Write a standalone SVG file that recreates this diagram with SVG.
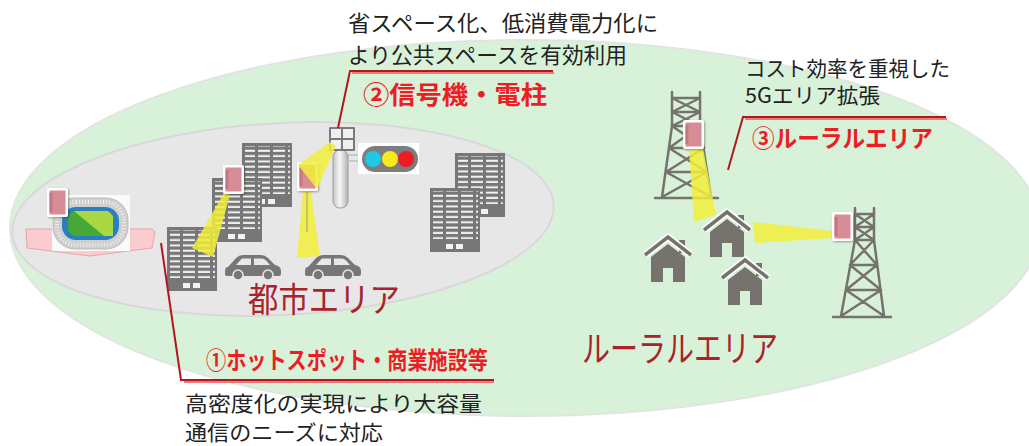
<svg xmlns="http://www.w3.org/2000/svg" width="1029" height="446" viewBox="0 0 1029 446">
  <style>
    .txt { font-family: "Noto Sans CJK JP", "Noto Sans", sans-serif; fill: #222; }
    .red { font-family: "Noto Sans CJK JP", "Noto Sans", sans-serif; fill: #ee1c24; font-weight: bold; }
    .area { font-family: "Noto Sans CJK JP", "Noto Sans", sans-serif; fill: #a8242a; }
    .beam { fill: #f2ee3a; opacity: 0.85; }
    .tower { fill: none; stroke: #76736e; stroke-width: 2.5; stroke-linecap: round; }
    .lead-sh { fill: none; stroke: #ec7a7a; stroke-width: 2; }
    .lead { fill: none; stroke: #b3161c; stroke-width: 2; }
  </style>
  <defs>
    <filter id="sh" x="-30%" y="-30%" width="160%" height="160%">
      <feDropShadow dx="1" dy="1" stdDeviation="1.2" flood-color="#000" flood-opacity="0.35"/>
    </filter>
    <pattern id="win" width="15" height="5.3" patternUnits="userSpaceOnUse">
      <rect x="1" y="1.5" width="12" height="2" fill="#f2f2f2"/>
    </pattern>
    <linearGradient id="pole" x1="0" x2="1" y1="0" y2="0">
      <stop offset="0" stop-color="#c4c4c4"/>
      <stop offset="0.45" stop-color="#f6f6f6"/>
      <stop offset="1" stop-color="#b4b4b4"/>
    </linearGradient>
    <!-- office building -->
    <g id="bldg">
      <rect x="0" y="0" width="50" height="64" fill="#777"/>
      <rect x="3" y="3" width="45" height="48" fill="url(#win)"/>
      <rect x="16" y="56" width="7" height="5" fill="#f2f2f2"/>
      <rect x="26" y="56" width="7" height="5" fill="#f2f2f2"/>
    </g>
    <!-- car -->
    <g id="car">
      <path d="M3,13 L11,4 Q14,1 18,1 L36,1 Q40,1 43,4 L50,11 Q56,12 56,17 L56,20 Q56,22 54,22 L2,22 Q0,22 0,20 L0,17 Q0,13 3,13 Z" fill="#777"/>
      <path d="M11,11 L17,4.5 L26,4.5 L26,11 Z" fill="#e8e8e8"/>
      <path d="M29,4.5 L37,4.5 Q39,4.5 41,6.5 L45,11 L29,11 Z" fill="#e8e8e8"/>
      <circle cx="13" cy="21" r="5" fill="#777" stroke="#e8e8e8" stroke-width="1.5"/>
      <circle cx="43" cy="21" r="5" fill="#777" stroke="#e8e8e8" stroke-width="1.5"/>
    </g>
    <!-- house icon, apex at origin -->
    <g id="house">
      <rect x="11" y="3" width="6" height="13" fill="#76736e"/>
      <path d="M0,7 L17,20 V45 H5 V31 H-5 V45 H-17 V20 Z" fill="#76736e"/>
      <path d="M-23,18 L0,0 L23,18" fill="none" stroke="#fff" stroke-width="7"/>
      <path d="M-23,18 L0,0 L23,18" fill="none" stroke="#76736e" stroke-width="3.5"/>
    </g>
    <!-- radio unit -->
    <g id="ru">
      <rect x="0" y="0" width="21" height="29" rx="2" fill="#fff" filter="url(#sh)"/>
      <rect x="2.5" y="2.5" width="16" height="24" fill="#d88c96"/>
      <rect x="2.5" y="5" width="3" height="19" fill="#c57682"/>
    </g>
  </defs>

  <rect width="1029" height="446" fill="#fff"/>

  <!-- coverage areas -->
  <g id="areas">
    <ellipse cx="525" cy="228" rx="515" ry="188" fill="#d8f2da" stroke="#dfe6df" stroke-width="2"/>
    <ellipse cx="283" cy="219" rx="271" ry="96" transform="rotate(-3 283 219)" fill="#e7e7e7" stroke="#d8d8d8" stroke-width="2"/>
  </g>

  <!-- stadium -->
  <g id="stadium">
    <polygon points="26,229 152,229 155,232 152,248 90,256 27,248" fill="#f9cdd0" stroke="#eaa3a8" stroke-width="1"/>
    <rect x="52" y="195" width="78" height="56" fill="#fafafa"/>
    <rect x="53" y="198" width="75" height="51" rx="22" fill="#cfcfcf" stroke="#bbb" stroke-width="1"/>
    <rect x="57" y="202" width="67" height="43" rx="19" fill="none" stroke="#f4f4f4" stroke-width="4" stroke-dasharray="1 2" opacity="0.8"/>
    <rect x="62" y="207" width="57" height="33" rx="14" fill="#2a7fc0"/>
    <rect x="68" y="211" width="45" height="25" rx="8" fill="#46a836"/>
    <polygon points="74,211 108,211 113,216 113,236 104,236" fill="#a9d842"/>
    <use href="#ru" x="47" y="188"/>
  </g>

  <!-- city buildings -->
  <g id="buildings-city">
    <use href="#bldg" x="242" y="143"/>
    <use href="#bldg" x="212" y="178"/>
    <use href="#bldg" x="167" y="227"/>
    <use href="#bldg" x="455" y="153"/>
    <use href="#bldg" x="430" y="188"/>
  </g>

  <!-- cars -->
  <g id="cars">
    <use href="#car" x="225" y="254"/>
    <use href="#car" x="305" y="254"/>
  </g>

  <!-- traffic signal pole with antenna -->
  <g id="signal">
    <rect x="333" y="150" width="15" height="58" rx="7" fill="url(#pole)" stroke="#9a9a9a" stroke-width="1"/>
    <rect x="329" y="127" width="26" height="24" rx="1" fill="#7a7a7a"/>
    <rect x="331" y="129" width="10" height="9" fill="#f0f0f0"/>
    <rect x="343" y="129" width="10" height="9" fill="#f0f0f0"/>
    <rect x="331" y="140" width="10" height="9" fill="#f0f0f0"/>
    <rect x="343" y="140" width="10" height="9" fill="#f0f0f0"/>
    <path d="M348,155 H362 M348,161 H362" stroke="#c8c8c8" stroke-width="2"/>
    <rect x="358" y="143" width="61" height="31" fill="#fff"/>
    <rect x="362" y="146" width="56" height="26" rx="13" fill="#7d7d7d"/>
    <circle cx="373" cy="159" r="8" fill="#1fc8e3"/>
    <circle cx="390" cy="159" r="8" fill="#f7ec1a"/>
    <circle cx="406" cy="159" r="8" fill="#ee1c24"/>
  </g>

  <!-- city radio beams and units -->
  <g id="city-radio">
    <polygon class="beam" points="224,193 230,195 213,257 192,248"/>
    <polygon class="beam" points="303,191 311,191 320,256 297,258"/>
    <line x1="307" y1="192" x2="307" y2="232" stroke="#9a9a70" stroke-width="1.5" opacity="0.6"/>
    <use href="#ru" x="223" y="165"/>
    <use href="#ru" x="297" y="162"/>
    <polygon class="beam" points="330,142 336,146 317,189 298,165"/>
  </g>

  <!-- rural towers -->
  <g id="tower-left">
    <path class="tower" d="M672,92 V126 M700,92 V126 M672,98 H700 M672,112 H700 M672,126 H700 M672,98 L700,112 M700,98 L672,112 M672,112 L700,126 M700,112 L672,126 M672,126 L662,197 M700,126 L711,197 M669,148 H704 M666,172 H707 M672,126 L704,148 M700,126 L669,148 M669,148 L707,172 M704,148 L666,172 M666,172 L711,197 M707,172 L662,197 M655,198 H718"/>
  </g>
  <g id="tower-right">
    <path class="tower" d="M855,208 V240 M874,208 V240 M855,214 H874 M855,227 H874 M855,240 H874 M855,214 L874,227 M874,214 L855,227 M855,227 L874,240 M874,227 L855,240 M855,240 L841,316 M874,240 L884,316 M850,265 H877 M846,290 H881 M855,240 L877,265 M874,240 L850,265 M850,265 L881,290 M877,265 L846,290 M846,290 L884,316 M881,290 L841,316 M833,317 H891"/>
  </g>

  <!-- rural beams -->
  <g id="rural-beams">
    <polygon class="beam" points="689,148 703,148 716,215 694,222"/>
    <polygon class="beam" points="753,222 833,231 833,238 755,243"/>
  </g>

  <!-- houses -->
  <g id="houses">
    <use href="#house" x="668" y="237"/>
    <use href="#house" x="727" y="212"/>
    <use href="#house" x="745" y="260"/>
  </g>

  <g id="rural-radio">
    <use href="#ru" x="683" y="120"/>
    <use href="#ru" x="832" y="212"/>
  </g>

  <!-- area names -->
  <g id="area-labels">
    <text class="area" x="248" y="312" font-size="34" textLength="152" lengthAdjust="spacingAndGlyphs">都市エリア</text>
    <text class="area" x="582" y="362" font-size="36" textLength="196" lengthAdjust="spacingAndGlyphs">ルーラルエリア</text>
  </g>

  <!-- callout leaders -->
  <g id="connectors">
    <polyline class="lead-sh" points="352,73 554,73"/>
    <polyline class="lead" points="338,128 350,71 553,71"/>
    <polyline class="lead-sh" points="745,119 947,119"/>
    <polyline class="lead" points="728,170 743,117 946,117"/>
    <polyline class="lead-sh" points="184,382 494,382"/>
    <polyline class="lead" points="161,243 181,380 494,380"/>
  </g>

  <!-- callout labels -->
  <g id="label-signal">
    <text class="txt" x="348" y="31" font-size="22" textLength="310" lengthAdjust="spacingAndGlyphs">省スペース化、低消費電力化に</text>
    <text class="txt" x="348" y="63" font-size="22" textLength="279" lengthAdjust="spacingAndGlyphs">より公共スペースを有効利用</text>
    <text class="red" x="363" y="104" font-size="25" textLength="184" lengthAdjust="spacingAndGlyphs">②信号機・電柱</text>
  </g>
  <g id="label-rural">
    <text class="txt" x="745" y="76" font-size="21" textLength="205" lengthAdjust="spacingAndGlyphs">コスト効率を重視した</text>
    <text class="txt" x="745" y="103" font-size="21" textLength="135" lengthAdjust="spacingAndGlyphs">5Gエリア拡張</text>
    <text class="red" x="752" y="147" font-size="24" textLength="181" lengthAdjust="spacingAndGlyphs">③ルーラルエリア</text>
  </g>
  <g id="label-hotspot">
    <text class="red" x="206" y="369" font-size="24" textLength="282" lengthAdjust="spacingAndGlyphs">①ホットスポット・商業施設等</text>
    <text class="txt" x="185" y="411" font-size="21" textLength="297" lengthAdjust="spacingAndGlyphs">高密度化の実現により大容量</text>
    <text class="txt" x="185" y="440" font-size="21" textLength="198" lengthAdjust="spacingAndGlyphs">通信のニーズに対応</text>
  </g>
</svg>
